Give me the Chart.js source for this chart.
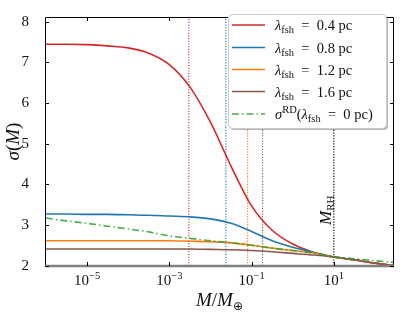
<!DOCTYPE html>
<html>
<head>
<meta charset="utf-8">
<script src="https://cdn.jsdelivr.net/npm/chart.js@4.4.0/dist/chart.umd.min.js"></script>
<style>
html, body { margin: 0; padding: 0; background: #fff; }
#wrap { width: 400px; height: 317px; }
</style>
</head>
<body>
<div id="wrap"><canvas id="c" width="400" height="317"></canvas></div>
<script>
//Data: M / M_earth sample points (half decades) and sigma(M) for each lambda_fsh
const mass   = [1e-6, 3.16e-6, 1e-5, 3.16e-5, 1e-4, 3.16e-4, 1e-3, 3.16e-3, 1e-2, 3.16e-2, 0.1, 0.316, 1, 3.16, 10, 31.6, 100, 290];
const sig04  = [7.45, 7.45, 7.44, 7.41, 7.36, 7.23, 6.95, 6.40, 5.53, 4.45, 3.47, 2.87, 2.53, 2.33, 2.21, 2.14, 2.06, 2.00];
const sig08  = [3.27, 3.27, 3.26, 3.26, 3.25, 3.24, 3.22, 3.20, 3.15, 3.04, 2.84, 2.61, 2.45, 2.33, 2.21, 2.14, 2.06, 2.00];
const sig12  = [2.61, 2.61, 2.61, 2.61, 2.61, 2.61, 2.61, 2.60, 2.59, 2.56, 2.50, 2.43, 2.37, 2.31, 2.21, 2.14, 2.06, 2.00];
const sig16  = [2.41, 2.41, 2.41, 2.41, 2.41, 2.41, 2.41, 2.41, 2.40, 2.39, 2.37, 2.34, 2.30, 2.26, 2.21, 2.14, 2.06, 2.00];
const sigRD  = [3.17, 3.10, 3.04, 2.97, 2.90, 2.83, 2.73, 2.67, 2.61, 2.56, 2.50, 2.43, 2.37, 2.31, 2.22, 2.17, 2.12, 2.08];

//Vertical markers (M values)
const markM      = [2.99e-3, 2.37e-2, 8.0e-2, 0.185, 10];
const markColour = ['rgba(214,39,40,0.9)', 'rgba(31,119,180,0.95)', 'rgba(255,127,14,0.95)', 'rgba(140,86,75,0.95)', '#000'];

//Ticks
const xTicks = [1e-5, 1e-3, 1e-1, 10];
const xTickExp = ['\u22125', '\u22123', '\u22121', '1'];
const yTicks = [2, 3, 4, 5, 6, 7, 8];

const yMin = 1.99, yMax = 8.12;
const FONT = '"Liberation Serif", "DejaVu Serif", serif';

const series = [
    { name: '0.4', data: sig04, colour: '#d62728' },
    { name: '0.8', data: sig08, colour: '#1f77b4' },
    { name: '1.2', data: sig12, colour: '#ff7f0e' },
    { name: '1.6', data: sig16, colour: '#8c564b' }
];
const rdColour = 'rgba(44,160,44,0.85)';
const rdDash = [7, 3, 1.5, 3];

function pts(ys) {
    return mass.map((m, i) => ({ x: m, y: ys[i] }));
}

let datasets = [];
series.forEach((s, i) => {
    datasets.push({
        data: pts(s.data),
        borderColor: s.colour,
        borderWidth: 1.6,
        cubicInterpolationMode: 'monotone',
        pointRadius: 0,
        order: 5 - i
    });
});
datasets.push({
    data: pts(sigRD),
    borderColor: rdColour,
    borderWidth: 1.6,
    borderDash: rdDash,
    cubicInterpolationMode: 'monotone',
    pointRadius: 0,
    order: 0
});
markM.forEach((m, i) => {
    datasets.push({
        data: [{ x: m, y: yMin }, { x: m, y: yMax }],
        borderColor: markColour[i],
        borderWidth: 1.2,
        borderDash: [1.2, 1.5],
        pointRadius: 0,
        order: 10
    });
});

//draw text pieces one after another: [text, font, dy]
function rich(ctx, parts, x, y) {
    let w = 0;
    parts.forEach(p => {
        ctx.font = p[1];
        ctx.fillText(p[0], x + w, y + (p[2] || 0));
        w += ctx.measureText(p[0]).width;
    });
    return w;
}
function richWidth(ctx, parts) {
    let w = 0;
    parts.forEach(p => { ctx.font = p[1]; w += ctx.measureText(p[0]).width; });
    return w;
}

const frame = {
    id: 'frame',
    afterDraw(chart) {
        const ctx = chart.ctx;
        const a = chart.chartArea;
        const xs = chart.scales.x, ys = chart.scales.y;
        ctx.save();

        //spines
        ctx.strokeStyle = '#000';
        ctx.lineWidth = 1;
        ctx.beginPath();
        ctx.moveTo(a.left + 0.5, a.bottom);
        ctx.lineTo(a.left + 0.5, a.top + 0.5);
        ctx.lineTo(a.right - 0.5, a.top + 0.5);
        ctx.lineTo(a.right - 0.5, a.bottom);
        ctx.stroke();
        ctx.strokeStyle = '#808080';
        ctx.lineWidth = 2.5;
        ctx.beginPath();
        ctx.moveTo(a.left, a.bottom);
        ctx.lineTo(a.right, a.bottom);
        ctx.stroke();

        //inward ticks
        ctx.strokeStyle = '#000';
        ctx.lineWidth = 1;
        ctx.beginPath();
        yTicks.forEach(v => {
            const py = Math.round(ys.getPixelForValue(v)) + 0.5;
            ctx.moveTo(a.left, py); ctx.lineTo(a.left + 4, py);
            ctx.moveTo(a.right, py); ctx.lineTo(a.right - 4, py);
        });
        xTicks.forEach(v => {
            const px = Math.round(xs.getPixelForValue(v)) + 0.5;
            ctx.moveTo(px, a.bottom); ctx.lineTo(px, a.bottom - 4);
            ctx.moveTo(px, a.top); ctx.lineTo(px, a.top + 4);
        });
        ctx.stroke();

        //x tick labels 10^n
        ctx.fillStyle = '#111';
        ctx.textBaseline = 'alphabetic';
        ctx.textAlign = 'left';
        xTicks.forEach((v, i) => {
            const parts = [['10', '15px ' + FONT], [xTickExp[i], '10.5px ' + FONT, -6]];
            const w = richWidth(ctx, parts);
            rich(ctx, parts, xs.getPixelForValue(v) - w / 2, 285);
        });

        //x title
        const xt = [['M', 'italic 19px ' + FONT], ['/', '19px ' + FONT], ['M', 'italic 19px ' + FONT], ['\u2295', '12px "DejaVu Sans", ' + FONT, 4]];
        const xw = richWidth(ctx, xt);
        rich(ctx, xt, (a.left + a.right) / 2 - xw / 2, 306);

        //y title
        ctx.save();
        ctx.translate(19, (a.top + a.bottom) / 2);
        ctx.rotate(-Math.PI / 2);
        const yt = [['\u03c3', 'italic 19px ' + FONT], ['(', '19px ' + FONT], ['M', 'italic 19px ' + FONT], [')', '19px ' + FONT]];
        const yw = richWidth(ctx, yt);
        rich(ctx, yt, -yw / 2, 0);
        ctx.restore();

        //M_RH label
        ctx.save();
        ctx.translate(xs.getPixelForValue(10) - 2.5, 225);
        ctx.rotate(-Math.PI / 2);
        rich(ctx, [['M', 'italic 17px ' + FONT], ['RH', '11px ' + FONT, 3]], 0, 0);
        ctx.restore();

        //legend
        const lx = 228, ly = 14, lw = 158, lh = 114, r = 4;
        function box(x, y) {
            ctx.beginPath();
            ctx.roundRect(x, y, lw, lh, r);
        }
        ctx.fillStyle = 'rgba(0,0,0,0.28)';
        box(lx + 2, ly + 2); ctx.fill();
        ctx.fillStyle = '#fff';
        box(lx, ly); ctx.fill();
        ctx.strokeStyle = '#cccccc';
        ctx.lineWidth = 1;
        box(lx + 0.5, ly + 0.5); ctx.stroke();

        const rowY = [25, 47.5, 69.5, 91.5, 114];
        const main = '14.5px ' + FONT, ital = 'italic 14.5px ' + FONT, sub = '10.5px ' + FONT;
        const eq = '\u2002=\u2002';
        series.forEach((s, i) => {
            ctx.strokeStyle = s.colour;
            ctx.lineWidth = 1.6;
            ctx.setLineDash([]);
            ctx.beginPath();
            ctx.moveTo(232, rowY[i]); ctx.lineTo(265, rowY[i]);
            ctx.stroke();
            ctx.fillStyle = '#111';
            rich(ctx, [['\u03bb', ital], ['fsh', sub, 3], [eq + s.name + ' pc', main]], 275, rowY[i] + 5);
        });
        ctx.strokeStyle = rdColour;
        ctx.setLineDash(rdDash);
        ctx.beginPath();
        ctx.moveTo(232, rowY[4]); ctx.lineTo(265, rowY[4]);
        ctx.stroke();
        ctx.setLineDash([]);
        ctx.fillStyle = '#111';
        rich(ctx, [['\u03c3', ital], ['RD', sub, -6], ['(', main], ['\u03bb', ital], ['fsh', sub, 3], [eq + '0 pc)', main]], 275, rowY[4] + 5);

        ctx.restore();
    }
};

let chart = new Chart(document.getElementById('c').getContext('2d'), {
    type: 'line',
    data: { datasets: datasets },
    options: {
        responsive: false,
        animation: false,
        layout: { padding: { top: 5, right: 6, left: 0, bottom: 0 } },
        plugins: { legend: { display: false }, tooltip: { enabled: false } },
        scales: {
            x: {
                type: 'logarithmic',
                min: 9.5e-7,
                max: 290,
                afterBuildTicks: s => { s.ticks = xTicks.map(v => ({ value: v })); },
                afterFit: s => { s.height = 51; },
                ticks: { display: false },
                grid: { display: false },
                border: { display: false }
            },
            y: {
                type: 'linear',
                min: yMin,
                max: yMax,
                afterBuildTicks: s => { s.ticks = yTicks.map(v => ({ value: v })); },
                afterFit: s => { s.width = 45; },
                ticks: { padding: 8, color: '#111', font: { family: FONT, size: 15 } },
                grid: { display: false },
                border: { display: false }
            }
        }
    },
    plugins: [frame]
});
</script>
</body>
</html>
